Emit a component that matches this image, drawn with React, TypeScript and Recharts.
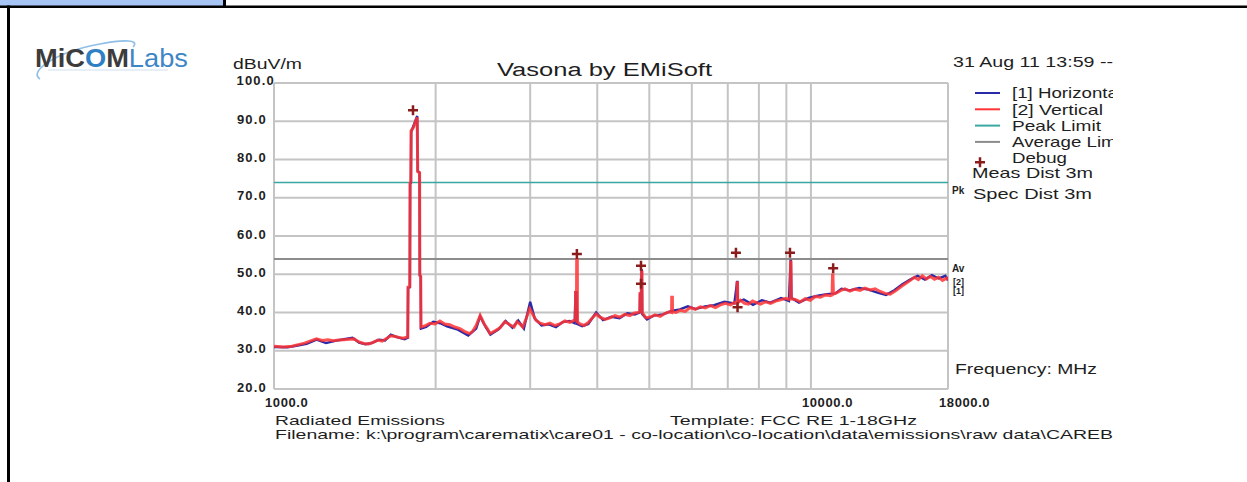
import React from "react";
import {
  ComposedChart,
  Line,
  Scatter,
  XAxis,
  YAxis,
  CartesianGrid,
  ReferenceLine,
} from "recharts";

// ---------- data ----------
const vertFreq = [
  1000, 1040, 1080, 1110, 1140, 1170, 1200, 1230, 1260, 1290, 1320, 1350, 1380, 1410, 1440, 1470, 1500, 1530, 1560, 1590,
  1620, 1650, 1680, 1710, 1740, 1770, 1775, 1777, 1790, 1792, 1798, 1800, 1820, 1835, 1848, 1852, 1867, 1869, 1876, 1878,
  1910, 1952, 1995, 2037, 2080, 2125, 2172, 2219, 2267, 2316, 2347, 2378, 2421, 2463, 2496, 2525, 2580, 2636, 2692, 2750,
  2800, 2835, 2870, 2906, 2950, 2994, 3035, 3075, 3130, 3197, 3266, 3336, 3407, 3480, 3555, 3617, 3640, 3645, 3660, 3662,
  3672, 3675, 3716, 3780, 3845, 3911, 3979, 4048, 4135, 4224, 4315, 4408, 4503, 4600, 4680, 4760, 4800, 4805, 4830, 4835,
  4845, 4850, 4930, 5017, 5128, 5240, 5356, 5450, 5500, 5505, 5520, 5525, 5608, 5706, 5831, 5960, 6090, 6222, 6358, 6497,
  6639, 6784, 6932, 7083, 7206, 7280, 7285, 7300, 7305, 7392, 7521, 7651, 7784, 7919, 8056, 8232, 8412, 8595, 8783, 8975,
  9091, 9150, 9160, 9180, 9190, 9348, 9552, 9760, 9973, 10191, 10413, 10640, 10872, 10950, 10970, 10990, 11010, 11190, 11380, 11570,
  11822, 12080, 12344, 12612, 12887, 13168, 13455, 13748, 14048, 14354, 14667, 14987, 15313, 15580, 15852, 16128, 16409, 16695, 16986, 17282,
  17583, 17890, 18000,
];
const vertLevel = [
  31.2, 31.0, 31.2, 31.6, 32.0, 32.6, 33.1, 32.7, 32.9, 32.6, 32.8, 32.9, 33.0, 33.1, 32.3, 31.9, 31.8, 32.2, 32.8, 32.5,
  33.2, 33.9, 33.7, 33.5, 33.3, 33.6, 33.6, 46.7, 46.8, 73.8, 74.2, 87.5, 88.5, 90.0, 91.0, 76.8, 76.5, 49.8, 49.5, 36.2,
  36.5, 37.2, 37.0, 37.8, 37.0, 36.8, 36.2, 35.8, 35.0, 34.5, 35.2, 36.5, 39.2, 37.0, 35.8, 34.5, 35.2, 36.0, 37.6, 36.8,
  36.2, 37.6, 37.0, 36.2, 38.5, 41.0, 39.5, 38.0, 37.2, 36.8, 37.2, 36.6, 37.0, 37.8, 37.4, 37.9, 38.0, 45.3, 45.3, 53.8,
  53.8, 37.5, 37.0, 36.6, 37.3, 38.5, 39.6, 38.8, 38.2, 38.6, 39.2, 38.8, 39.5, 39.2, 39.8, 40.0, 40.2, 45.0, 45.0, 50.6,
  50.6, 40.0, 38.6, 38.8, 39.4, 39.0, 39.8, 40.2, 40.0, 44.0, 44.0, 40.2, 40.0, 40.6, 40.3, 41.3, 40.8, 41.5, 41.2, 41.8,
  41.3, 42.0, 42.4, 42.0, 42.6, 42.3, 47.8, 47.8, 42.5, 43.2, 42.4, 42.2, 43.0, 42.6, 42.2, 42.8, 42.4, 43.0, 43.3, 43.7,
  43.4, 43.5, 53.2, 53.2, 43.6, 43.4, 42.8, 43.6, 43.2, 44.2, 44.0, 44.6, 44.4, 44.6, 49.8, 49.8, 44.8, 45.2, 45.8, 46.2,
  45.6, 46.1, 45.8, 46.4, 45.9, 46.2, 45.5, 45.0, 44.8, 45.6, 46.6, 47.5, 48.4, 49.2, 48.6, 49.6, 48.8, 49.4, 48.7, 49.2,
  48.4, 49.0, 48.6,
];

const horizFreq = [
  1000, 1060, 1100, 1150, 1200, 1250, 1300, 1350, 1400, 1440, 1480, 1520, 1570, 1610, 1650, 1700, 1750, 1775, 1777, 1791,
  1793, 1799, 1801, 1848, 1852, 1867, 1869, 1876, 1878, 1920, 1980, 2040, 2100, 2200, 2300, 2380, 2420, 2480, 2530, 2620,
  2700, 2780, 2850, 2920, 3000, 3060, 3150, 3250, 3350, 3450, 3550, 3630, 3645, 3660, 3670, 3750, 3850, 3980, 4100, 4250,
  4400, 4550, 4700, 4800, 4805, 4830, 4836, 4842, 4850, 4950, 5100, 5300, 5500, 5700, 5900, 6100, 6350, 6600, 6900, 7200,
  7285, 7298, 7310, 7500, 7800, 8100, 8400, 8800, 9100, 9165, 9175, 9200, 9500, 9900, 10300, 10700, 11100, 11400, 11800, 12300,
  12800, 13300, 13800, 14300, 14800, 15300, 15800, 16300, 16800, 17300, 17800, 18000,
];
const horizLevel = [
  31.0, 30.9, 31.3, 31.8, 32.9, 32.0, 32.6, 33.0, 33.4, 32.1, 31.7, 32.0, 32.9, 32.7, 34.2, 33.5, 33.0, 33.4, 46.5, 46.6,
  73.6, 73.9, 87.2, 91.4, 77.0, 76.6, 49.6, 49.4, 35.8, 36.2, 37.6, 37.2, 36.4, 35.5, 34.0, 35.8, 39.0, 36.2, 34.2, 35.6,
  37.8, 36.0, 37.9, 35.8, 42.8, 38.4, 36.6, 36.9, 36.2, 37.5, 37.8, 37.2, 45.3, 45.3, 37.0, 36.4, 37.0, 40.0, 38.0, 38.9,
  38.5, 39.8, 39.5, 40.0, 44.8, 44.8, 51.0, 51.0, 39.6, 38.2, 39.2, 39.5, 40.4, 40.8, 41.6, 40.9, 41.6, 41.9, 42.8, 42.4,
  48.0, 48.0, 42.8, 43.4, 42.0, 43.2, 42.6, 43.8, 43.0, 53.5, 53.5, 43.8, 42.6, 43.8, 44.4, 44.8, 45.0, 46.2, 45.8, 46.4,
  46.0, 45.2, 44.6, 45.8, 47.4, 48.6, 49.6, 48.6, 49.8, 48.9, 49.6, 48.4,
];

const debugFreq = [1815, 3665, 4825, 4825, 7250, 7300, 9140, 11000];
const debugLevel = [92.9, 55.3, 52.2, 47.5, 55.6, 41.4, 55.6, 51.6];

const peakLimit = 74;
const averageLimit = 54;

const yTicks = [20, 30, 40, 50, 60, 70, 80, 90, 100];
const xGridTicks = [1000, 2000, 3000, 4000, 5000, 6000, 7000, 8000, 9000, 10000, 18000];
const xLabelTicks = [1000, 10000, 18000];

const legendLabels = ["[1] Horizontal", "[2] Vertical", "Peak Limit", "Average Limit", "Debug"];
const legendColors = ["#2a2aa8", "#ff3434", "#3aa8a0", "#8c8c8c", "#8b1c1c"];
const legendWidths = [110, 91, 89, 114, 55];

// ---------- build tables ----------
const vertData = vertFreq.map((f, i) => ({ f, v: vertLevel[i] }));
const horizData = horizFreq.map((f, i) => ({ f, v: horizLevel[i] }));
const debugData = debugFreq.map((f, i) => ({ f, v: debugLevel[i] }));

const FONT = "'Liberation Sans', Arial, Helvetica, sans-serif";
const TXT = "#1e1e1e";

const YTick = (props: any) => {
  const { y, payload } = props;
  const s = payload.value.toFixed(1);
  const isTop = payload.value === 100;
  return (
    <text
      x={isTop ? 275 : 267}
      y={isTop ? y - 3 : y - 2}
      dy="0.35em"
      textAnchor="end"
      fontFamily={FONT}
      fontSize={13}
      fontWeight="bold"
      letterSpacing={1.2}
      fill={TXT}
    >
      {s}
    </text>
  );
};

const XTick = (props: any) => {
  const { x, payload } = props;
  if (!xLabelTicks.includes(payload.value)) return <g />;
  return (
    <text
      x={x - 9}
      y={407}
      textAnchor="start"
      fontFamily={FONT}
      fontSize={13}
      fontWeight="bold"
      letterSpacing={0.6}
      fill={TXT}
    >
      {payload.value.toFixed(1)}
    </text>
  );
};

const PlusShape = (props: any) => {
  const { cx, cy } = props;
  if (cx == null || cy == null) return <g />;
  return (
    <path
      d={`M${cx - 5},${cy} H${cx + 5} M${cx},${cy - 5} V${cy + 5}`}
      stroke="#8b1c1c"
      strokeWidth={2.5}
      fill="none"
    />
  );
};

const T = (p: any) => (
  <text
    x={p.x}
    y={p.y}
    dy="0.35em"
    fontFamily={FONT}
    fontSize={p.size || 15}
    fill={TXT}
    textLength={p.w}
    lengthAdjust="spacingAndGlyphs"
    textAnchor={p.anchor || "start"}
    clipPath={p.clip}
  >
    {p.children}
  </text>
);

export default function App() {
  return (
    <div
      style={{
        position: "absolute",
        left: 0,
        top: 0,
        width: 1247,
        height: 482,
        background: "#fff",
        overflow: "hidden",
      }}
    >
      <div style={{ position: "absolute", left: 0, top: 0 }}>
        <ComposedChart
          width={1247}
          height={482}
          margin={{ left: 214, right: 299, top: 83, bottom: 63 }}
        >
          <CartesianGrid stroke="#c4c4c4" strokeWidth={2} horizontal vertical />
          <XAxis
            dataKey="f"
            type="number"
            scale="log"
            domain={[1000, 18000]}
            ticks={xGridTicks}
            allowDataOverflow
            height={30}
            axisLine={false}
            tickLine={false}
            tick={<XTick />}
            interval={0}
          />
          <YAxis
            type="number"
            domain={[20, 100]}
            ticks={yTicks}
            width={60}
            axisLine={false}
            tickLine={false}
            tick={<YTick />}
            interval={0}
          />
          <ReferenceLine y={peakLimit} stroke="#3aa8a0" strokeWidth={1.5} />
          <ReferenceLine y={averageLimit} stroke="#8c8c8c" strokeWidth={2} />
          <Line
            data={horizData}
            dataKey="v"
            type="linear"
            stroke="#2a2aa8"
            strokeWidth={2.4}
            dot={false}
            isAnimationActive={false}
          />
          <Line
            data={vertData}
            dataKey="v"
            type="linear"
            stroke="#ff3434"
            strokeOpacity={0.85}
            strokeWidth={3}
            dot={false}
            isAnimationActive={false}
          />
          <Scatter data={debugData} dataKey="v" shape={<PlusShape />} isAnimationActive={false} />
        </ComposedChart>
      </div>

      <svg
        width={1247}
        height={482}
        style={{ position: "absolute", left: 0, top: 0, pointerEvents: "none" }}
      >
        {/* frame */}
        <rect x={0} y={0} width={224} height={6} fill="#a6c4f4" />
        <rect x={0} y={5.5} width={1247} height={2.5} fill="#000" />
        <rect x={223} y={0} width={3} height={8} fill="#000" />
        <rect x={7} y={5.5} width={3} height={477} fill="#000" />

        {/* logo */}
        <path
          d="M40,79 C28,72 55,52 100,44 C125,39 140,40 133,47"
          stroke="#6aa8de"
          strokeWidth={1.6}
          fill="none"
          opacity={0.75}
        />
        <line x1={48} y1={70} x2={168} y2={70} stroke="#cfe0f0" strokeWidth={1} />
        <text
          x={35}
          y={67}
          fontFamily={FONT}
          fontSize={25}
          fontWeight="bold"
          fill="#3c3c3c"
          textLength={153}
          lengthAdjust="spacingAndGlyphs"
        >
          MiC<tspan fill="#2f7fc4">O</tspan>M<tspan fontWeight="normal" fill="#3f86c6">Labs</tspan>
        </text>

        {/* titles */}
        <T x={233} y={64} w={69} size={14}>dBuV/m</T>
        <T x={497} y={70} w={215} size={18}>Vasona by EMiSoft</T>
        <T x={953} y={62} w={160} size={15}>31 Aug 11 13:59 --</T>

        {/* legend */}
        <defs>
          <clipPath id="legclip">
            <rect x={960} y={80} width={153} height={90} />
          </clipPath>
        </defs>
        {legendLabels.map((label, i) => {
          const cy = 93 + i * 16.3;
          const color = legendColors[i];
          return (
            <g key={label}>
              {i < 4 ? (
                <line x1={975} x2={1000} y1={cy} y2={cy} stroke={color} strokeWidth={2} />
              ) : (
                <path d={`M975,${cy + 4} H985 M980,${cy - 1} V${cy + 9}`} stroke={color} strokeWidth={2.5} />
              )}
              <T x={1012} y={cy} w={legendWidths[i]} clip="url(#legclip)">{label}</T>
            </g>
          );
        })}
        <T x={972} y={173} w={121}>Meas Dist 3m</T>
        <T x={973} y={194} w={119}>Spec Dist 3m</T>

        {/* limit tags */}
        <text x={952} y={190} dy="0.35em" fontFamily={FONT} fontSize={10} fontWeight="bold" fill={TXT}>Pk</text>
        <text x={952} y={268} dy="0.35em" fontFamily={FONT} fontSize={10} fontWeight="bold" fill={TXT}>Av</text>
        <text x={953} y={282} dy="0.35em" fontFamily={FONT} fontSize={9} fontWeight="bold" fill={TXT}>[2]</text>
        <text x={953} y={291} dy="0.35em" fontFamily={FONT} fontSize={9} fontWeight="bold" fill={TXT}>[1]</text>

        <T x={955} y={369} w={142}>Frequency: MHz</T>

        {/* footer */}
        <T x={275} y={420} w={170} size={13.5}>Radiated Emissions</T>
        <T x={670} y={420} w={247} size={13.5}>Template: FCC RE 1-18GHz</T>
        <T x={275} y={434.5} w={838} size={13.5}>
          {"Filename: k:\\program\\carematix\\care01 - co-location\\co-location\\data\\emissions\\raw data\\CAREB"}
        </T>
      </svg>
    </div>
  );
}
